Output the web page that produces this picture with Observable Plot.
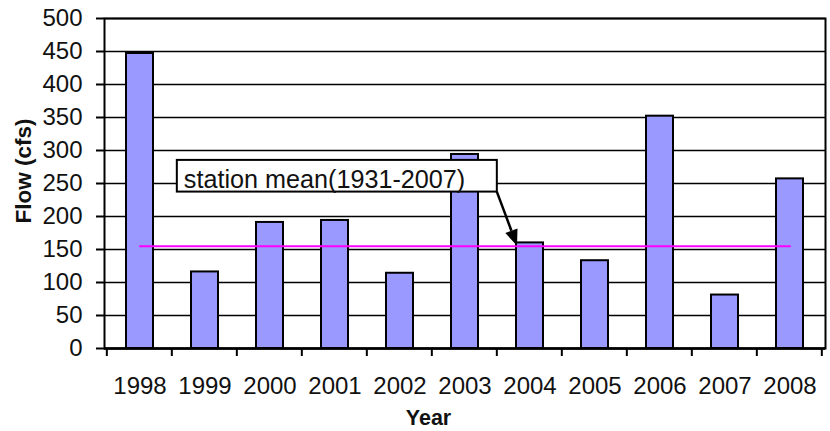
<!DOCTYPE html>
<html>
<head>
<meta charset="utf-8">
<script src="https://cdn.jsdelivr.net/npm/d3@7"></script>
<script src="https://cdn.jsdelivr.net/npm/@observablehq/plot@0.6"></script>
<style>
  html, body { margin: 0; padding: 0; background: #fff; }
  #chart svg { display: block; font-family: "Liberation Sans", Arial, sans-serif; }
</style>
</head>
<body>
<div id="chart"></div>
<script>
// ---- data ----
const years = ["1998","1999","2000","2001","2002","2003","2004","2005","2006","2007","2008"];
const flows = [447, 116, 191, 194, 114, 294, 160, 133, 352, 81, 257];
const stationMean = 155;
const yTicks = [0, 50, 100, 150, 200, 250, 300, 350, 400, 450, 500];
const annotationText = "station mean(1931-2007)";
const xTitle = "Year";
const yTitle = "Flow (cfs)";

const data = years.map((y, i) => ({year: y, flow: flows[i]}));
const meanData = years.map(y => ({year: y, v: stationMean}));

const PAD = 0.59;

// annotation, titles and boundary ticks, positioned through the scales
function extras(index, scales, values, dims) {
  const x = scales.x, y = scales.y;
  const step = x(years[1]) - x(years[0]);
  const slot = v => x(v) - PAD * step / 2;
  const g = d3.create("svg:g");
  // category boundary ticks below the x axis
  const y0 = y(0);
  for (let k = 0; k <= years.length; k++) {
    const xx = k < years.length ? slot(years[k]) : slot(years[years.length - 1]) + step;
    g.append("line").attr("x1", xx).attr("x2", xx).attr("y1", y0).attr("y2", y0 + 8)
      .attr("stroke", "black").attr("stroke-width", 2);
  }
  // annotation box
  const bx1 = slot("1999") + 5, bx2 = slot("2004");
  const by1 = y(285), by2 = y(237);
  g.append("rect").attr("x", bx1).attr("y", by1).attr("width", bx2 - bx1).attr("height", by2 - by1)
    .attr("fill", "white").attr("stroke", "black").attr("stroke-width", 2);
  g.append("text").attr("x", bx1 + 7).attr("y", by2 - 4).attr("font-size", 25.2)
    .attr("text-anchor", "start").attr("fill", "#111").text(annotationText);
  // arrow
  const ax1 = bx2, ay1 = by2;
  const ax2 = x("2004") + 1, ay2 = y(stationMean);
  const ang = Math.atan2(ay2 - ay1, ax2 - ax1);
  const L = 16, W = 6.5;
  const bxh = ax2 - L * Math.cos(ang), byh = ay2 - L * Math.sin(ang);
  g.append("line").attr("x1", ax1).attr("y1", ay1).attr("x2", bxh).attr("y2", byh)
    .attr("stroke", "black").attr("stroke-width", 2.5);
  const px = -Math.sin(ang) * W, py = Math.cos(ang) * W;
  g.append("path").attr("d", `M${ax2},${ay2}L${bxh + px},${byh + py}L${bxh - px},${byh - py}Z`)
    .attr("fill", "black");
  // axis titles
  const left = dims.marginLeft, top = dims.marginTop;
  const right = dims.width - dims.marginRight, bottom = dims.height - dims.marginBottom;
  g.append("text").attr("x", (left + right) / 2 - 36).attr("y", bottom + 77)
    .attr("text-anchor", "middle").attr("font-size", 21.5).attr("font-weight", "bold")
    .attr("fill", "#111").text(xTitle);
  g.append("text").attr("transform", `translate(${left - 81},${(top + bottom) / 2 - 12}) rotate(-90)`)
    .attr("text-anchor", "middle").attr("dominant-baseline", "central")
    .attr("font-size", 22.5).attr("font-weight", "bold")
    .attr("fill", "#111").text(yTitle);
  return g.node();
}

const chart = Plot.plot({
  width: 830,
  height: 431,
  marginLeft: 104,
  marginRight: 5,
  marginTop: 18,
  marginBottom: 83,
  style: {fontFamily: "Liberation Sans, Arial, sans-serif", fontSize: "24px", color: "#111", background: "white"},
  x: {domain: years, paddingInner: PAD, paddingOuter: PAD / 2, align: 0.5, label: null},
  y: {domain: [0, 500], label: null},
  marks: [
    Plot.ruleY(yTicks, {stroke: "black", strokeWidth: 1.6}),
    Plot.barY(data, {x: "year", y: "flow", fill: "#9999ff", stroke: "black", strokeWidth: 2}),
    Plot.lineY(meanData, {x: "year", y: "v", stroke: "#ff00ff", strokeWidth: 2}),
    Plot.axisY({ticks: yTicks, tickSize: 8, tickPadding: 14, fontSize: 24, stroke: "black", strokeWidth: 2, label: null}),
    Plot.axisX({tickSize: 0, tickPadding: 28, fontSize: 24, label: null}),
    Plot.frame({stroke: "black", strokeWidth: 2}),
    Plot.ruleY([0], {stroke: "black", strokeWidth: 2.5}),
    extras
  ]
});
document.getElementById("chart").appendChild(chart);
</script>
</body>
</html>
